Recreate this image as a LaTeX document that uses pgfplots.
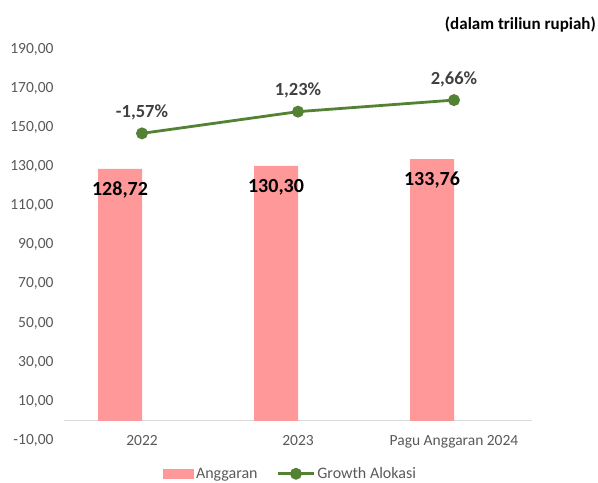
\documentclass[border=0pt]{standalone}
\usepackage{fontspec}
\setmainfont{Carlito}
\usepackage{pgfplots}
\pgfplotsset{compat=1.18}
\definecolor{barpink}{HTML}{FF9999}
\definecolor{linegreen}{HTML}{548235}
\definecolor{ticktext}{HTML}{595959}
\definecolor{labeltext}{HTML}{404040}
\definecolor{zeroline}{HTML}{D9D9D9}

\begin{document}
\begin{tikzpicture}
\useasboundingbox (0,0) rectangle (598bp,483bp);
\begin{axis}[
    at={(64bp,42.5bp)}, anchor=south west,
    scale only axis,
    width=468bp, height=391.5bp,
    xmin=-0.5, xmax=2.5,
    ymin=-10, ymax=190,
    axis line style={draw=none},
    major tick length=0pt,
    xtick={0,1,2},
    xticklabels={2022,2023,Pagu Anggaran 2024},
    ytick={-10,10,...,190},
    extra y ticks={0},
    extra y tick labels={},
    extra y tick style={grid=major, major grid style={draw=zeroline, line width=1bp}},
    yticklabel style={
        /pgf/number format/.cd, fixed, fixed zerofill, precision=2, use comma,
        assume math mode=true,
        /tikz/.cd, xshift=-7bp, text=ticktext, font=\fontsize{15.5bp}{18bp}\selectfont
    },
    xticklabel style={yshift=9bp, text=ticktext, font=\fontsize{15.5bp}{18bp}\selectfont},
    legend style={
        at={(0.484,-0.085)}, anchor=center,
        draw=none, fill=none,
        legend columns=2,
        font=\fontsize{16bp}{18bp}\selectfont,
        text=ticktext,
        /tikz/every even column/.append style={column sep=17bp},
        nodes={inner sep=2bp}
    },
    clip=false,
]
% Anggaran (triliun rupiah)
\addplot[ybar, bar width=44bp, bar shift=-22bp, fill=barpink, draw=none,
    point meta=explicit symbolic,
    nodes near coords,
    nodes near coords style={anchor=center, xshift=-22bp, yshift=-21bp, text=black,
        font=\fontsize{20bp}{24bp}\selectfont\bfseries},
    legend image code/.code={\fill[barpink] (0bp,-5bp) rectangle (31bp,5bp);}]
    coordinates {
        (0,128.72) [128,72]
        (1,130.30) [130,30]
        (2,133.76) [133,76]
    };
\addlegendentry{Anggaran}
% Growth alokasi (secondary scale, drawn at its position on the chart)
\addplot[linegreen, line width=2.8bp, mark=*, mark size=4.5bp,
    mark options={fill=linegreen, draw=linegreen},
    point meta=explicit symbolic,
    nodes near coords,
    nodes near coords style={anchor=center, yshift=21bp, text=labeltext,
        font=\fontsize{18.5bp}{22bp}\selectfont\bfseries},
    legend image code/.code={
        \draw[linegreen, line width=2.8bp] (0bp,0bp) -- (36bp,0bp);
        \fill[linegreen] (18bp,0bp) circle (4.5bp);}]
    coordinates {
        (0,146.9) [-1,57\%]
        (1,158.0) [1,23\%]
        (2,163.9) [2,66\%]
    };
\addlegendentry{Growth Alokasi}
\end{axis}
\node[anchor=east, inner sep=0pt, font=\fontsize{17bp}{20bp}\selectfont\bfseries]
    at (596bp,458bp) {(dalam triliun rupiah)};
\end{tikzpicture}
\end{document}
